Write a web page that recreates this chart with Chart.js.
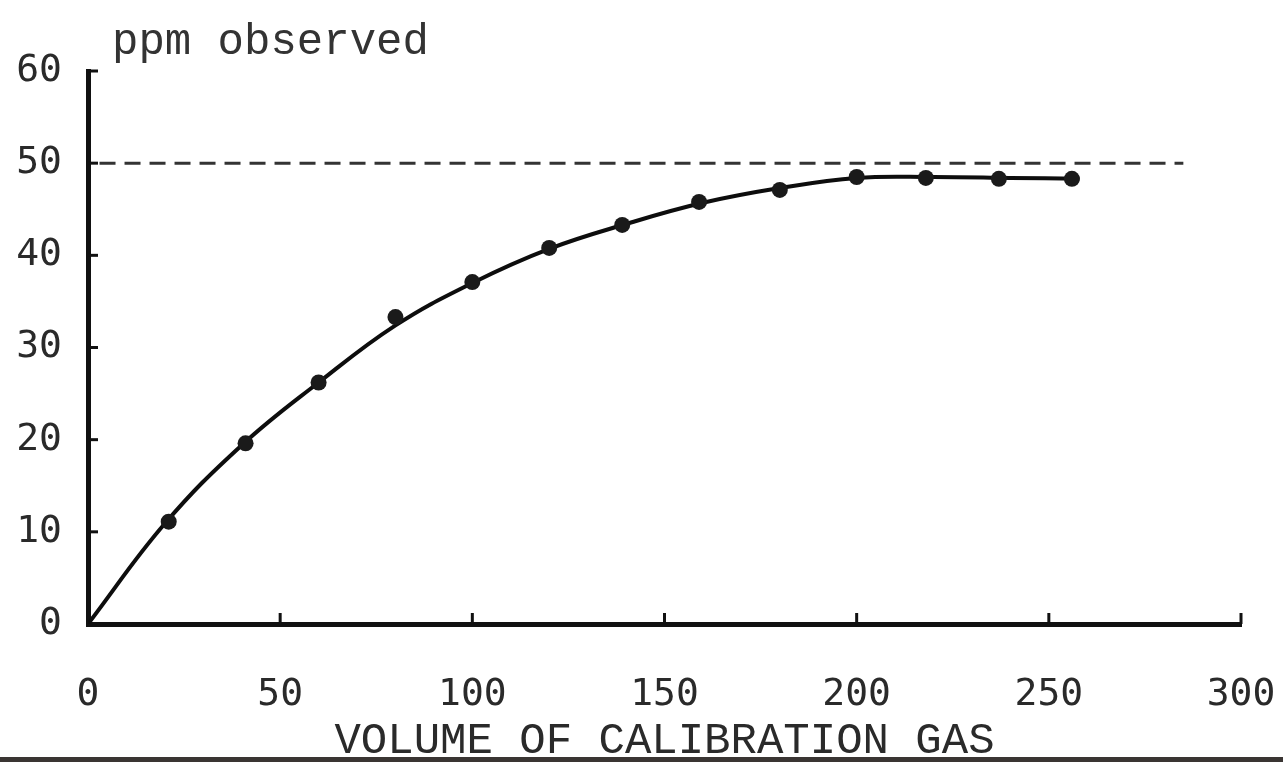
<!DOCTYPE html>
<html>
<head>
<meta charset="utf-8">
<script src="https://cdn.jsdelivr.net/npm/chart.js@4"></script>
<style>
    html, body { margin: 0; padding: 0; background: #fff; }
    #wrap { position: relative; width: 1283px; height: 762px; overflow: hidden; }
    #edge { position: absolute; left: 0; bottom: 0; width: 1283px; height: 5px; background: #3a3533; }
</style>
</head>
<body>
<div id="wrap">
    <canvas id="myChart" width="1283" height="762"></canvas>
    <div id="edge"></div>
</div>
<script>
var volume = [21, 41, 60, 80, 100, 120, 139, 159, 180, 200, 218, 237, 256];
var ppmObserved = [11.1, 19.6, 26.2, 33.3, 37.1, 40.8, 43.3, 45.8, 47.1, 48.5, 48.4, 48.3, 48.3];
// hand drawn curve through them
var curveX = [0, 20, 40, 60, 80, 100, 120, 140, 160, 180, 200, 220, 240, 258];
var curveY = [0, 10.9, 19.4, 26.2, 32.4, 37.0, 40.7, 43.4, 45.7, 47.3, 48.4, 48.5, 48.4, 48.3];
var targetX = [3, 285];
var targetY = [50, 50];
var xTicks = [0, 50, 100, 150, 200, 250, 300];
var yTicks = [0, 10, 20, 30, 40, 50, 60];
var yLabel = 'ppm observed';
var xLabel = 'VOLUME OF CALIBRATION GAS';

let dots = [];
for (let i = 0; i < volume.length; i++) {
    dots.push({x: volume[i], y: ppmObserved[i]});
}
let curve = [];
for (let i = 0; i < curveX.length; i++) {
    curve.push({x: curveX[i], y: curveY[i]});
}
let targetLine = [];
for (let i = 0; i < targetX.length; i++) {
    targetLine.push({x: targetX[i], y: targetY[i]});
}

// little tick marks pointing into the plot, plus the label over the y axis
const innerTicks = {
    id: 'innerTicks',
    afterDraw(chart) {
        const ctx = chart.ctx;
        const xs = chart.scales.x;
        const ys = chart.scales.y;
        ctx.save();
        ctx.strokeStyle = '#111';
        ctx.lineWidth = 3;
        for (let i = 1; i < xTicks.length; i++) {
            let px = xs.getPixelForValue(xTicks[i]);
            ctx.beginPath();
            ctx.moveTo(px, ys.bottom);
            ctx.lineTo(px, ys.bottom - 11);
            ctx.stroke();
        }
        for (let i = 1; i < yTicks.length; i++) {
            let py = ys.getPixelForValue(yTicks[i]);
            ctx.beginPath();
            ctx.moveTo(xs.left, py);
            ctx.lineTo(xs.left + 10, py);
            ctx.stroke();
        }
        ctx.fillStyle = '#333';
        ctx.font = '44px "Liberation Mono"';
        ctx.textBaseline = 'middle';
        ctx.fillText(yLabel, xs.left + 24, 42);
        ctx.restore();
    }
};

const config = {
    type: 'line',
    data: {
        datasets: [{
            label: 'observed',
            data: dots,
            showLine: false,
            backgroundColor: '#1a1a1a',
            borderColor: '#1a1a1a',
            pointRadius: 8,
            pointBorderWidth: 0
        }, {
            label: 'fit',
            data: curve,
            borderColor: '#0d0d0d',
            borderWidth: 4,
            tension: 0.4,
            pointRadius: 0,
            fill: false
        }, {
            label: 'target',
            data: targetLine,
            borderColor: '#333',
            borderWidth: 3,
            borderDash: [16, 9],
            pointRadius: 0,
            fill: false
        }]
    },
    options: {
        responsive: false,
        animation: false,
        layout: {padding: {top: 71, right: 42, left: 0, bottom: 0}},
        plugins: {legend: {display: false}, tooltip: {enabled: false}},
        scales: {
            x: {
                type: 'linear',
                min: 0,
                max: 300,
                afterFit: scale => {
                    scale.height = 138;
                    scale.paddingLeft = 0;
                    scale.paddingRight = 0;
                },
                afterBuildTicks: scale => { scale.ticks = xTicks.map(v => ({value: v})); },
                border: {color: '#111', width: 5},
                grid: {display: false},
                ticks: {
                    padding: 40,
                    color: '#2a2a2a',
                    font: {family: 'DejaVu Sans Mono', size: 38}
                },
                title: {
                    display: true,
                    text: xLabel,
                    color: '#2a2a2a',
                    font: {family: 'Liberation Mono', size: 44, lineHeight: 0.95},
                    padding: {top: 0, bottom: 0}
                }
            },
            y: {
                type: 'linear',
                min: 0,
                max: 60,
                afterFit: scale => { scale.width = 88; },
                afterBuildTicks: scale => { scale.ticks = yTicks.map(v => ({value: v})); },
                border: {color: '#111', width: 5},
                grid: {display: false},
                ticks: {
                    padding: 18,
                    color: '#2a2a2a',
                    font: {family: 'DejaVu Sans Mono', size: 38}
                }
            }
        }
    },
    plugins: [innerTicks]
};

var myChart = new Chart(document.getElementById('myChart'), config);
</script>
</body>
</html>
